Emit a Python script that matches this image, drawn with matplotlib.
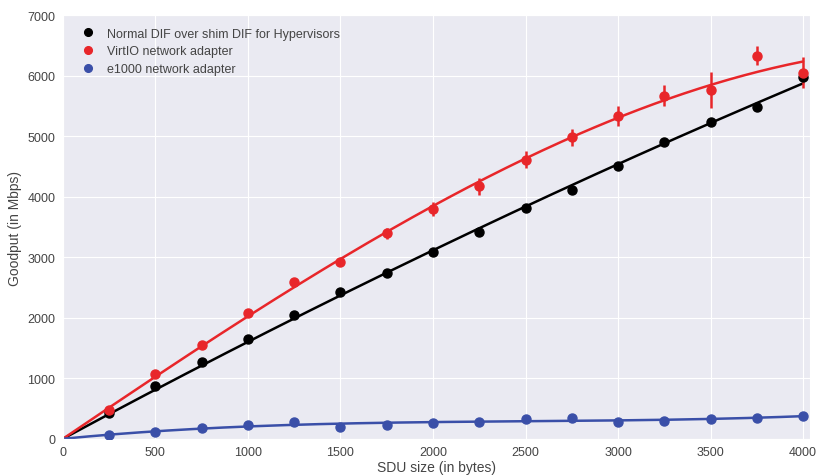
import numpy as np
import seaborn as sns
from matplotlib import pyplot as plt

sns.set_style("darkgrid")
plt.rcParams['font.family'] = ['Liberation Sans', 'DejaVu Sans']

# SDU size (bytes)
sdu = [250, 500, 750, 1000, 1250, 1500, 1750, 2000,
       2250, 2500, 2750, 3000, 3250, 3500, 3750, 4000]

# goodput (Mbps)
normal_dif = [430, 875, 1270, 1650, 2050, 2430, 2740, 3090,
              3410, 3810, 4110, 4510, 4900, 5240, 5480, 5980]
virtio = [480, 1070, 1550, 2080, 2590, 2920, 3395, 3800,
          4170, 4610, 4980, 5330, 5670, 5760, 6330, 6050]
virtio_err = [40, 40, 40, 50, 50, 60, 90, 120,
              140, 140, 140, 165, 175, 300, 155, 255]
e1000 = [60, 115, 180, 235, 285, 190, 220, 260,
         285, 320, 350, 280, 300, 325, 350, 375]

labels = ["Normal DIF over shim DIF for Hypervisors",
          "VirtIO network adapter",
          "e1000 network adapter"]
colors = ["#000000", "#e8262a", "#3a4fa8"]
degrees = [2, 3, 3]


def fit_origin(x, y, deg, xn):
    # polynomial fit forced through (0, 0)
    x = np.asarray(x, float)
    A = np.column_stack([x ** k for k in range(1, deg + 1)])
    c = np.linalg.lstsq(A, np.asarray(y, float), rcond=None)[0]
    return sum(c[k - 1] * xn ** k for k in range(1, deg + 1))


fig, ax = plt.subplots(figsize=(8.17, 4.77), dpi=100)
ax.set_facecolor("#eaeaf2")

xfit = np.linspace(0, 4000, 200)
series = [normal_dif, virtio, e1000]
errs = [None, virtio_err, None]
for ys, err, lab, c, d in zip(series, errs, labels, colors, degrees):
    ax.plot(xfit, fit_origin(sdu, ys, d, xfit), color=c, lw=1.8, zorder=2)
    if err is not None:
        ax.errorbar(sdu, ys, yerr=err, fmt="none", ecolor=c, elinewidth=1.8,
                    capsize=0, zorder=3)
    ax.plot(sdu, ys, "o", color=c, ms=6.5, label=lab, zorder=4)

ax.set_xlim(0, 4040)
ax.set_ylim(0, 7000)
ax.set_xticks(np.arange(0, 4001, 500))
ax.set_yticks(np.arange(0, 7001, 1000))
ax.tick_params(labelsize=9, colors="#444444", pad=2)
ax.set_xlabel("SDU size (in bytes)", fontsize=10, color="#444444", labelpad=1)
ax.set_ylabel("Goodput (in Mbps)", fontsize=10, color="#444444")

leg = ax.legend(loc="upper left", frameon=False, fontsize=9, handletextpad=0.5,
                borderaxespad=0.6, labelspacing=0.45, markerscale=0.85)
for t in leg.get_texts():
    t.set_color("#444444")

plt.subplots_adjust(left=0.077, right=0.992, top=0.966, bottom=0.078)
plt.savefig("out.png", dpi=100)
